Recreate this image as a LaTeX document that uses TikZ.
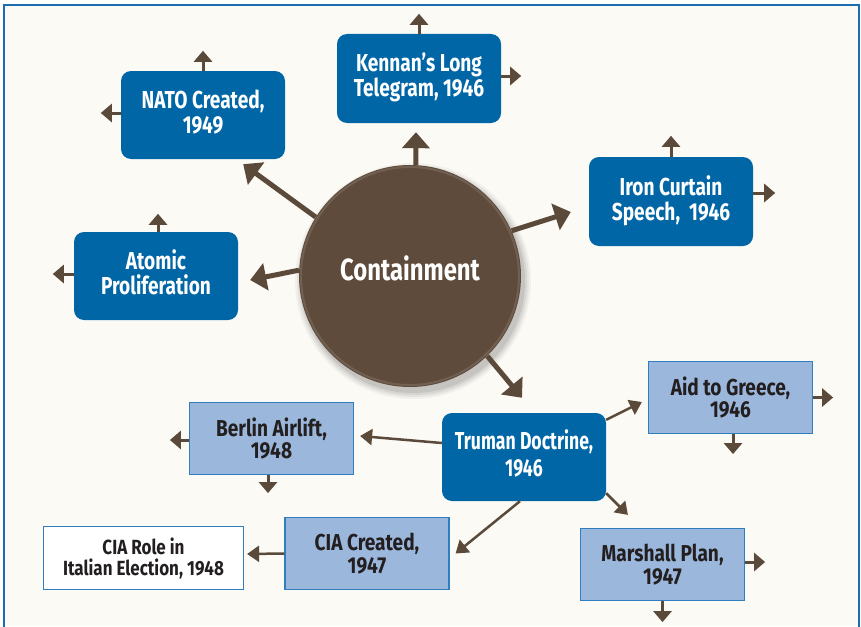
\documentclass[tikz,border=0pt]{standalone}
\usepackage{fontspec}
\setmainfont{Fira Sans}[FakeStretch=0.78]
\newfontfamily\fntT{Fira Sans}[FakeStretch=0.72]
\newfontfamily\fntR{Fira Sans}[FakeStretch=0.83]
\usetikzlibrary{arrows.meta}
\definecolor{dblue}{HTML}{0066A6}
\definecolor{lblue}{HTML}{9BB7DB}
\definecolor{bblue}{HTML}{2E7EC0}
\definecolor{framec}{HTML}{1A6DAF}
\definecolor{abrown}{HTML}{5B4A3A}
\definecolor{circc}{HTML}{5E4B3B}
\definecolor{ink}{HTML}{231F20}
\definecolor{bgc}{HTML}{FBFAF5}
\newcommand\lowpad{\rule[-7pt]{0pt}{7pt}}
\begin{document}
\begin{tikzpicture}[x=1pt,y=-1pt,
  dbox/.style={fill=dblue, rounded corners=10pt, minimum width=164pt, minimum height=88pt,
    text=white, align=center, font=\bfseries\fontsize{24.5}{25}\selectfont, inner sep=0pt},
  lbox/.style={fill=lblue, draw=bblue, line width=1.2pt, minimum width=164pt, minimum height=72pt,
    text=ink, align=center, font=\fntR\bfseries\fontsize{23}{22.5}\selectfont, inner sep=0pt},
  wbox/.style={fill=white, draw=bblue, line width=1.2pt, minimum width=200pt, minimum height=63pt,
    text=ink, align=center, font=\fntR\bfseries\fontsize{20.5}{21}\selectfont, inner sep=0pt},
  big/.style={draw=abrown, line width=5pt, -{Triangle[width=27pt,length=16pt]}},
  stub/.style={draw=abrown, line width=3pt, -{Triangle[width=18pt,length=11pt]}},
  mid/.style={draw=abrown, line width=2.5pt, -{Triangle[width=16pt,length=12pt]}},
]
\useasboundingbox (0,0) rectangle (861,626);
\fill[white] (0,0) rectangle (861,626);
\fill[bgc] (4,5) rectangle (859,626);
\begin{scope}
  \clip (0,0) rectangle (861,626);
  \draw[framec, line width=2.5pt] (4,5) rectangle (859,660);
\end{scope}

% soft shadow of the circle
\foreach \r/\o in {118/0.04,116/0.05,114/0.06,112/0.08}{
  \fill[black, opacity=\o] (413,281) circle (\r);
}
\node[circle, fill=circc, minimum size=222pt, inner sep=0pt] (circ) at (410,276) {};
\draw[white, opacity=0.12, line width=2pt] (410,276) circle (109);
\node[text=white, font=\bfseries\fontsize{30.6}{31}\selectfont] (ctext) at (410,268) {Containment};

% boxes
\node[dbox] (nato) at (203,115) {NATO Created,\\1949\lowpad};
\node[dbox, minimum height=89pt] (kennan) at (419,78.5) {Kennan’s Long\\Telegram, 1946\lowpad};
\node[dbox, minimum height=89pt] (iron) at (671,201.5) {Iron Curtain\\Speech,~ 1946\lowpad};
\node[dbox] (atomic) at (156,276) {Atomic\\Proliferation\lowpad};
\node[dbox, font=\fntT\bfseries\fontsize{24.5}{27}\selectfont] (truman) at (524,457) {Truman Doctrine,\\1946\lowpad};
\node[lbox] (berlin) at (271.5,438.5) {Berlin Airlift,\\1948};
\node[lbox] (aid) at (730.5,397.5) {Aid to Greece,\\1946};
\node[lbox] (marshall) at (662.5,564.5) {Marshall Plan,\\1947};
\node[lbox] (cia) at (367,553.5) {CIA Created,\\1947};
\node[wbox] (role) at (143.5,558) {CIA Role in\\Italian Election, 1948};

% big arrows from the circle
\draw[big] (circ.148.6) -- ([xshift=-42pt,yshift=-5pt]nato.south east);
\draw[big] (circ.87) -- ([xshift=-3pt,yshift=-9pt]kennan.south);
\draw[big] (circ.24.6) -- ([xshift=-18pt,yshift=-10.5pt]iron.west);
\draw[big] (circ.177) -- ([xshift=12pt,yshift=-4pt]atomic.east);
\draw[big] (circ.314.6) -- ([xshift=-2pt,yshift=15pt]truman.north);

% arrows from Truman Doctrine
\draw[mid] ([yshift=14pt]truman.west) -- ([xshift=6pt,yshift=2.5pt]berlin.east);
\draw[mid] ([yshift=-7pt]truman.north east) -- ([xshift=-6pt,yshift=-4.5pt]aid.west);
\draw[mid] ([yshift=8pt]truman.south east) -- ([xshift=48pt,yshift=13pt]marshall.north west);
\draw[mid] ([xshift=-4pt]truman.south) -- ([xshift=6pt]cia.east);
\draw[mid] (cia.west) -- ([xshift=3pt,yshift=4pt]role.east);

% stubs
\draw[stub] (nato.north) -- ++(0,-20);
\draw[stub] ([yshift=2pt]nato.west) -- ++(-20,0);
\draw[stub] (kennan.north) -- ++(0,-20);
\draw[stub] ([yshift=2.5pt]kennan.east) -- ++(20,0);
\draw[stub] (iron.north) -- ++(0,-21);
\draw[stub] ([yshift=8.5pt]iron.east) -- ++(22,0);
\draw[stub] ([xshift=2pt]atomic.north) -- ++(0,-18);
\draw[stub] ([yshift=2pt]atomic.west) -- ++(-21,0);
\draw[stub] ([yshift=-1.5pt]berlin.west) -- ++(-19,0);
\draw[stub] ([xshift=-3.5pt]berlin.south) -- ++(0,18);
\draw[stub] (aid.east) -- ++(20,0);
\draw[stub] ([xshift=2.5pt]aid.south) -- ++(0,20);
\draw[stub] ([yshift=2.5pt]marshall.east) -- ++(20,0);
\draw[stub] (marshall.south) -- ++(0,21);
\end{tikzpicture}
\end{document}
